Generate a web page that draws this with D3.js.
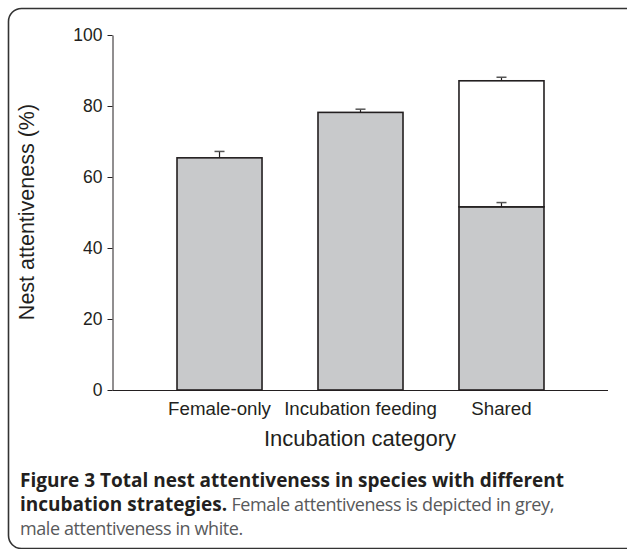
<!DOCTYPE html>
<html>
<head>
<meta charset="utf-8">
<script src="https://cdn.jsdelivr.net/npm/d3@7"></script>
<style>
  body { margin: 0; background: #fff; }
  svg { display: block; }
</style>
</head>
<body>
<div id="chart"></div>
<script>
// Data
const categories = ['Female-only', 'Incubation feeding', 'Shared']
const femaleValues = [65.4, 78.2, 51.6]
const femaleErrors = [1.8, 0.9, 1.2]
const maleValues = [0, 0, 35.5]
const totalErrors = [0, 0, 1.0]
const yTicks = [0, 20, 40, 60, 80, 100]

var width = 627
var height = 549

var svg = d3.select('#chart')
  .append('svg')
  .attr('width', width)
  .attr('height', height)

// frame
svg.append('rect')
  .attr('x', 8.5).attr('y', 8.5)
  .attr('width', 640).attr('height', 540)
  .attr('rx', 13).attr('ry', 13)
  .attr('fill', 'none')
  .attr('stroke', '#333')
  .attr('stroke-width', 1.6)

const xScale = d3.scaleBand()
  .domain(categories)
  .range([113, 608])
  .paddingInner(0.397)
  .paddingOuter(0.454)

const yScale = d3.scaleLinear()
  .domain([0, 100])
  .range([390, 35])

const ink = '#231f20'
const fontAxis = 'Liberation Sans, Arial, Helvetica, sans-serif'

// y axis
const yAxis = svg.append('g')
  .attr('transform', 'translate(112.5,0)')
  .call(d3.axisLeft(yScale).tickValues(yTicks).tickSize(5).tickPadding(5).tickSizeOuter(0))
yAxis.select('.domain').attr('stroke', ink)
yAxis.selectAll('.tick line').attr('stroke', ink)
yAxis.selectAll('.tick text')
  .attr('fill', ink)
  .attr('font-family', fontAxis)
  .attr('font-size', 17.5)

// x axis line
const xAxis = svg.append('g')
  .attr('transform', 'translate(0,390.5)')
  .call(d3.axisBottom(xScale).tickSize(0).tickPadding(11).tickSizeOuter(0))
xAxis.select('.domain').attr('stroke', ink).attr('d', 'M112.5,0H608')
xAxis.selectAll('.tick text')
  .attr('fill', ink)
  .attr('font-family', fontAxis)
  .attr('font-size', 18.7)

const rows = categories.map((c, i) => ({
  cat: c, f: femaleValues[i], fe: femaleErrors[i], m: maleValues[i], te: totalErrors[i]
}))

// error bars
function errorBar(cx, yTop, yErr) {
  svg.append('line')
    .attr('x1', cx).attr('x2', cx)
    .attr('y1', yTop).attr('y2', yErr)
    .attr('stroke', ink).attr('stroke-width', 1.2)
  svg.append('line')
    .attr('x1', cx - 5).attr('x2', cx + 5)
    .attr('y1', yErr).attr('y2', yErr)
    .attr('stroke', '#555').attr('stroke-width', 1.5)
}

rows.forEach((d) => {
  const cx = xScale(d.cat) + xScale.bandwidth() / 2
  errorBar(cx, yScale(d.f), yScale(d.f + d.fe))
  if (d.m > 0) errorBar(cx, yScale(d.f + d.m), yScale(d.f + d.m + d.te))
})

// female (grey) bars
svg.selectAll('rect.female')
  .data(rows)
  .enter()
  .append('rect')
  .attr('class', 'female')
  .attr('x', (d) => xScale(d.cat))
  .attr('width', xScale.bandwidth())
  .attr('y', (d) => yScale(d.f))
  .attr('height', (d) => yScale(0) - yScale(d.f))
  .attr('fill', '#c8c9cb')
  .attr('stroke', ink)
  .attr('stroke-width', 1.6)

// male (white) bars
svg.selectAll('rect.male')
  .data(rows.filter((d) => d.m > 0))
  .enter()
  .append('rect')
  .attr('class', 'male')
  .attr('x', (d) => xScale(d.cat))
  .attr('width', xScale.bandwidth())
  .attr('y', (d) => yScale(d.f + d.m))
  .attr('height', (d) => yScale(d.f) - yScale(d.f + d.m))
  .attr('fill', '#fff')
  .attr('stroke', ink)
  .attr('stroke-width', 1.6)

// the female error bar sits inside the white bar
rows.filter((d) => d.m > 0).forEach((d) => {
  const cx = xScale(d.cat) + xScale.bandwidth() / 2
  errorBar(cx, yScale(d.f), yScale(d.f + d.fe))
})

// axis titles
svg.append('text')
  .attr('x', 360).attr('y', 446)
  .attr('text-anchor', 'middle')
  .attr('fill', ink)
  .attr('font-family', fontAxis)
  .attr('font-size', 22)
  .text('Incubation category')

svg.append('text')
  .attr('transform', 'translate(34,212) rotate(-90)')
  .attr('text-anchor', 'middle')
  .attr('fill', ink)
  .attr('font-family', fontAxis)
  .attr('font-size', 21.5)
  .text('Nest attentiveness (%)')

// caption
const cap = svg.append('g')
  .attr('font-family', 'Open Sans, Noto Sans, sans-serif')
  .attr('font-size', 19)
cap.append('text')
  .attr('x', 20).attr('y', 487)
  .attr('fill', ink)
  .attr('font-weight', 'bold')
  .text('Figure 3 Total nest attentiveness in species with different')
const l2 = cap.append('text').attr('x', 20).attr('y', 511)
l2.append('tspan').attr('fill', ink).attr('font-weight', 'bold').text('incubation strategies.')
l2.append('tspan').attr('fill', '#58595b')
  .attr('font-size', 18).attr('letter-spacing', -0.4)
  .text(' Female attentiveness is depicted in grey,')
cap.append('text')
  .attr('x', 20).attr('y', 535)
  .attr('fill', '#58595b')
  .attr('font-size', 18).attr('letter-spacing', -0.4)
  .text('male attentiveness in white.')
</script>
</body>
</html>
